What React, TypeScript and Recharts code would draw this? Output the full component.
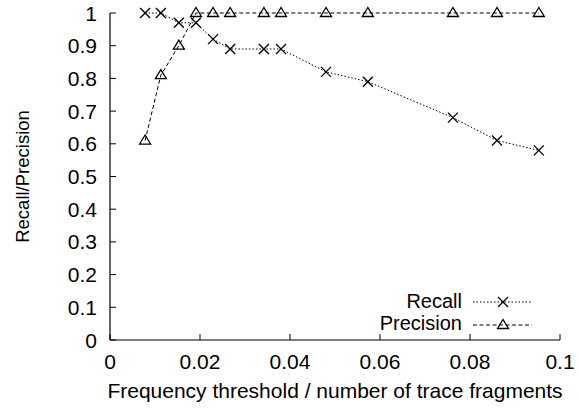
import React from 'react';
import { LineChart, Line, XAxis, YAxis } from 'recharts';

// values
const thresholds = [0.0078, 0.0113, 0.0153, 0.0191, 0.0229, 0.0267, 0.0342, 0.038, 0.048, 0.0573, 0.0762, 0.086, 0.0953];
const recall = [1, 1, 0.97, 0.97, 0.92, 0.89, 0.89, 0.89, 0.82, 0.79, 0.68, 0.61, 0.58];
const precision = [0.61, 0.81, 0.9, 1, 1, 1, 1, 1, 1, 1, 1, 1, 1];

const xTicks = [0, 0.02, 0.04, 0.06, 0.08, 0.1];
const yTicks = [0, 0.1, 0.2, 0.3, 0.4, 0.5, 0.6, 0.7, 0.8, 0.9, 1];

const chartData = thresholds.map((x, i) => ({ x, recall: recall[i], precision: precision[i] }));

const FONT = '"Liberation Sans", Arial, Helvetica, sans-serif';
const RECALL_DASH = '1.5 2';
const PRECISION_DASH = '4 2.5';

const Cross = ({ cx, cy }: { cx: number; cy: number }) => (
  <g stroke="#000" strokeWidth={1.3}>
    <line x1={cx - 5} y1={cy - 5} x2={cx + 5} y2={cy + 5} />
    <line x1={cx - 5} y1={cy + 5} x2={cx + 5} y2={cy - 5} />
  </g>
);

const Triangle = ({ cx, cy }: { cx: number; cy: number }) => (
  <polygon
    points={`${cx},${cy - 5.5} ${cx - 5.5},${cy + 3.5} ${cx + 5.5},${cy + 3.5}`}
    fill="none"
    stroke="#000"
    strokeWidth={1.3}
  />
);

const XTick = (props: any) => {
  const { x, y, payload } = props;
  return (
    <g>
      <line x1={x} y1={y} x2={x} y2={y - 6} stroke="#000" />
      <text x={x} y={y + 29} textAnchor="middle" fontSize={21} fontFamily={FONT} fill="#000">
        {String(payload.value)}
      </text>
    </g>
  );
};

const YTick = (props: any) => {
  const { x, y, payload } = props;
  return (
    <g>
      <line x1={x} y1={y} x2={x + 6} y2={y} stroke="#000" />
      <text x={x - 13} y={y + 7.5} textAnchor="end" fontSize={21} fontFamily={FONT} fill="#000">
        {String(payload.value)}
      </text>
    </g>
  );
};

const LegendBox = () => (
  <svg width={579} height={411} style={{ position: 'absolute', left: 0, top: 0, pointerEvents: 'none' }}>
    <g fontFamily={FONT} fontSize={20} fill="#000">
      <text x={462} y={308} textAnchor="end">Recall</text>
      <text x={462} y={330} textAnchor="end">Precision</text>
    </g>
    <line x1={473} y1={302} x2={532} y2={302} stroke="#000" strokeDasharray={RECALL_DASH} />
    <Cross cx={503} cy={302} />
    <line x1={473} y1={325} x2={532} y2={325} stroke="#000" strokeDasharray={PRECISION_DASH} />
    <Triangle cx={503} cy={325} />
  </svg>
);

export default function App() {
  return (
    <div style={{ position: 'absolute', left: 0, top: 0, width: 579, height: 411, background: '#fff' }}>
      <LineChart width={579} height={411} data={chartData} margin={{ top: 13, right: 19, bottom: 11, left: 10 }}>
        <XAxis
          type="number"
          dataKey="x"
          domain={[0, 0.1]}
          ticks={xTicks}
          interval={0}
          tickSize={0}
          tickMargin={0}
          tickLine={false}
          tick={<XTick />}
          height={60}
          axisLine={{ stroke: '#000', strokeWidth: 1.2 }}
          label={{
            value: 'Frequency threshold / number of trace fragments',
            position: 'insideBottom',
            offset: 2,
            style: { fontFamily: FONT, fontSize: 21, fill: '#000' },
          }}
        />
        <YAxis
          type="number"
          domain={[0, 1]}
          ticks={yTicks}
          interval={0}
          tickSize={0}
          tickMargin={0}
          tickLine={false}
          tick={<YTick />}
          width={100}
          axisLine={{ stroke: '#000', strokeWidth: 1.2 }}
          label={{
            value: 'Recall/Precision',
            angle: -90,
            position: 'insideLeft',
            offset: 12,
            style: { fontFamily: FONT, fontSize: 18.5, fill: '#000', textAnchor: 'middle' },
          }}
        />
        <Line
          type="linear"
          dataKey="recall"
          name="Recall"
          stroke="#000"
          strokeWidth={1}
          strokeDasharray={RECALL_DASH}
          isAnimationActive={false}
          dot={(p: any) => <Cross key={`r-${p.index}`} cx={p.cx} cy={p.cy} />}
          activeDot={false}
        />
        <Line
          type="linear"
          dataKey="precision"
          name="Precision"
          stroke="#000"
          strokeWidth={1}
          strokeDasharray={PRECISION_DASH}
          isAnimationActive={false}
          dot={(p: any) => <Triangle key={`p-${p.index}`} cx={p.cx} cy={p.cy} />}
          activeDot={false}
        />
      </LineChart>
      <LegendBox />
    </div>
  );
}
